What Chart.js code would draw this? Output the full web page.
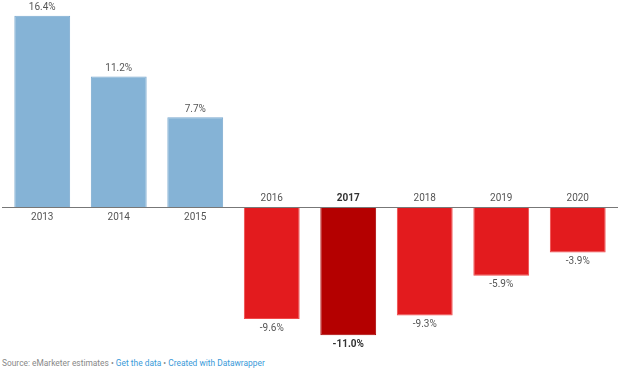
<!DOCTYPE html>
<html>
<head>
<meta charset="utf-8">
<script src="https://cdn.jsdelivr.net/npm/chart.js@4/dist/chart.umd.min.js"></script>
<style>
  body { margin: 0; background: #fff; font-family: Roboto, sans-serif; }
  #wrap { position: relative; width: 630px; height: 352px; }
  #foot { position: absolute; left: 2px; top: 358px; font-size: 8.4px; color: #888; }
  #foot a { color: #3a9ad9; text-decoration: none; }
</style>
</head>
<body>
<div id="wrap"><canvas id="grafica" width="630" height="352"></canvas></div>
<div id="foot">Source: eMarketer estimates • <a>Get the data</a> • <a>Created with Datawrapper</a></div>
<script>
  const years = ['2013', '2014', '2015', '2016', '2017', '2018', '2019', '2020'];
  const growth = [16.4, 11.2, 7.7, -9.6, -11.0, -9.3, -5.9, -3.9];
  const highlight = '2017';

  const colors = years.map((y, i) => {
    if (growth[i] >= 0) return '#85b3d6';
    return y === highlight ? '#b40000' : '#e31b1e';
  });
  const borders = years.map((y, i) => {
    if (growth[i] >= 0) return '#7aa9cf';
    return y === highlight ? '#a80000' : '#f04a4a';
  });

  const labelsPlugin = {
    id: 'labels',
    afterDatasetsDraw(chart) {
      const ctx = chart.ctx;
      const y = chart.scales.y;
      const zero = y.getPixelForValue(0);
      ctx.save();
      ctx.strokeStyle = '#777';
      ctx.lineWidth = 1;
      ctx.beginPath();
      ctx.moveTo(2, Math.round(zero) + 0.5);
      ctx.lineTo(618, Math.round(zero) + 0.5);
      ctx.stroke();

      ctx.textAlign = 'center';
      ctx.textBaseline = 'middle';
      chart.getDatasetMeta(0).data.forEach((bar, i) => {
        const bold = years[i] === highlight;
        ctx.font = (bold ? 'bold ' : '') + '10px Roboto';
        ctx.fillStyle = bold ? '#333' : '#555';
        const v = growth[i];
        const txt = v.toFixed(1) + '%';
        if (v >= 0) {
          ctx.fillText(txt, bar.x, bar.y - 8);
          ctx.fillText(years[i], bar.x, zero + 10);
        } else {
          ctx.fillText(txt, bar.x, bar.y + 9);
          ctx.fillText(years[i], bar.x, zero - 9);
        }
      });
      ctx.restore();
    }
  };

  const graph = document.getElementById('grafica');
  const myChart = new Chart(graph, {
    type: 'bar',
    data: {
      labels: years,
      datasets: [{
        data: growth,
        backgroundColor: colors,
        borderColor: borders,
        borderWidth: 1,
        categoryPercentage: 0.73,
        barPercentage: 1,
      }],
    },
    options: {
      responsive: false,
      animation: false,
      layout: { padding: { left: 4, right: 14, top: 3, bottom: 5 } },
      plugins: { legend: { display: false }, tooltip: { enabled: false } },
      scales: {
        x: { display: false },
        y: { display: false, min: -12, max: 17.5 },
      },
    },
    plugins: [labelsPlugin],
  });
</script>
</body>
</html>
